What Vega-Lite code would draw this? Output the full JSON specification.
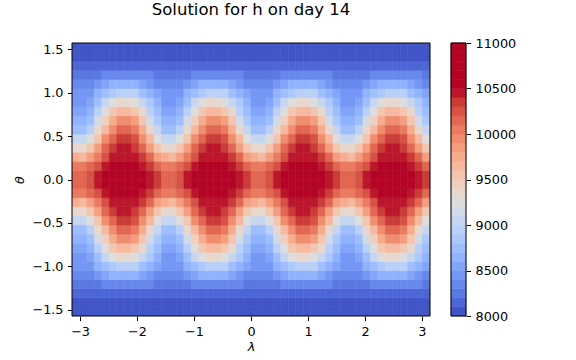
{
"$schema": "https://vega.github.io/schema/vega-lite/v6.json",
"width": 358,
"height": 273,
"autosize": "none",
"padding": {"left": 72, "top": 43, "right": 146, "bottom": 44},
"background": "white",
"title": {"text": "Solution for h on day 14", "font": "DejaVu Sans", "fontSize": 16.5, "fontWeight": "normal", "color": "black", "anchor": "middle", "frame": "group", "offset": 6, "baseline": "alphabetic"},
"config": {
"font": "DejaVu Sans",
"view": {"stroke": null},
"axis": {"labelFont": "DejaVu Sans", "labelFontSize": 12.8, "labelColor": "black", "titleFont": "DejaVu Sans", "titleFontSize": 12.8, "titleFontWeight": "normal", "titleColor": "black", "tickColor": "black", "tickWidth": 1, "tickSize": 4.5, "labelPadding": 4.5, "grid": false, "domain": false, "labelFlush": false, "zindex": 1}
},
"resolve": {"scale": {"x": "independent", "y": "independent"}},
"layer": [
{
"layer": [
{
"data": {"values": [
{"l":-3.08,"t":-1.52,"h":8007},{"l":-2.95,"t":-1.52,"h":8007},{"l":-2.81,"t":-1.52,"h":8007},{"l":-2.68,"t":-1.52,"h":8007},{"l":-2.55,"t":-1.52,"h":8007},{"l":-2.42,"t":-1.52,"h":8007},{"l":-2.29,"t":-1.52,"h":8007},{"l":-2.16,"t":-1.52,"h":8007},{"l":-2.03,"t":-1.52,"h":8007},{"l":-1.9,"t":-1.52,"h":8007},{"l":-1.77,"t":-1.52,"h":8007},{"l":-1.64,"t":-1.52,"h":8007},{"l":-1.51,"t":-1.52,"h":8007},{"l":-1.37,"t":-1.52,"h":8007},{"l":-1.24,"t":-1.52,"h":8007},{"l":-1.11,"t":-1.52,"h":8007},{"l":-0.98,"t":-1.52,"h":8007},{"l":-0.85,"t":-1.52,"h":8007},{"l":-0.72,"t":-1.52,"h":8007},{"l":-0.59,"t":-1.52,"h":8007},{"l":-0.46,"t":-1.52,"h":8007},{"l":-0.33,"t":-1.52,"h":8007},{"l":-0.2,"t":-1.52,"h":8007},{"l":-0.07,"t":-1.52,"h":8007},{"l":0.07,"t":-1.52,"h":8007},{"l":0.2,"t":-1.52,"h":8007},{"l":0.33,"t":-1.52,"h":8007},{"l":0.46,"t":-1.52,"h":8007},{"l":0.59,"t":-1.52,"h":8007},{"l":0.72,"t":-1.52,"h":8007},{"l":0.85,"t":-1.52,"h":8007},{"l":0.98,"t":-1.52,"h":8007},{"l":1.11,"t":-1.52,"h":8007},{"l":1.24,"t":-1.52,"h":8007},{"l":1.37,"t":-1.52,"h":8007},{"l":1.51,"t":-1.52,"h":8007},{"l":1.64,"t":-1.52,"h":8007},{"l":1.77,"t":-1.52,"h":8007},{"l":1.9,"t":-1.52,"h":8007},{"l":2.03,"t":-1.52,"h":8007},{"l":2.16,"t":-1.52,"h":8007},{"l":2.29,"t":-1.52,"h":8007},{"l":2.42,"t":-1.52,"h":8007},{"l":2.55,"t":-1.52,"h":8007},{"l":2.68,"t":-1.52,"h":8007},{"l":2.81,"t":-1.52,"h":8007},{"l":2.95,"t":-1.52,"h":8007},{"l":3.08,"t":-1.52,"h":8007},
{"l":-3.08,"t":-1.41,"h":8059},{"l":-2.95,"t":-1.41,"h":8059},{"l":-2.81,"t":-1.41,"h":8059},{"l":-2.68,"t":-1.41,"h":8060},{"l":-2.55,"t":-1.41,"h":8062},{"l":-2.42,"t":-1.41,"h":8063},{"l":-2.29,"t":-1.41,"h":8064},{"l":-2.16,"t":-1.41,"h":8064},{"l":-2.03,"t":-1.41,"h":8063},{"l":-1.9,"t":-1.41,"h":8062},{"l":-1.77,"t":-1.41,"h":8061},{"l":-1.64,"t":-1.41,"h":8059},{"l":-1.51,"t":-1.41,"h":8059},{"l":-1.37,"t":-1.41,"h":8059},{"l":-1.24,"t":-1.41,"h":8059},{"l":-1.11,"t":-1.41,"h":8060},{"l":-0.98,"t":-1.41,"h":8062},{"l":-0.85,"t":-1.41,"h":8063},{"l":-0.72,"t":-1.41,"h":8064},{"l":-0.59,"t":-1.41,"h":8064},{"l":-0.46,"t":-1.41,"h":8063},{"l":-0.33,"t":-1.41,"h":8062},{"l":-0.2,"t":-1.41,"h":8061},{"l":-0.07,"t":-1.41,"h":8059},{"l":0.07,"t":-1.41,"h":8059},{"l":0.2,"t":-1.41,"h":8059},{"l":0.33,"t":-1.41,"h":8059},{"l":0.46,"t":-1.41,"h":8060},{"l":0.59,"t":-1.41,"h":8062},{"l":0.72,"t":-1.41,"h":8063},{"l":0.85,"t":-1.41,"h":8064},{"l":0.98,"t":-1.41,"h":8064},{"l":1.11,"t":-1.41,"h":8063},{"l":1.24,"t":-1.41,"h":8062},{"l":1.37,"t":-1.41,"h":8061},{"l":1.51,"t":-1.41,"h":8059},{"l":1.64,"t":-1.41,"h":8059},{"l":1.77,"t":-1.41,"h":8059},{"l":1.9,"t":-1.41,"h":8059},{"l":2.03,"t":-1.41,"h":8060},{"l":2.16,"t":-1.41,"h":8062},{"l":2.29,"t":-1.41,"h":8063},{"l":2.42,"t":-1.41,"h":8064},{"l":2.55,"t":-1.41,"h":8064},{"l":2.68,"t":-1.41,"h":8063},{"l":2.81,"t":-1.41,"h":8062},{"l":2.95,"t":-1.41,"h":8061},{"l":3.08,"t":-1.41,"h":8059},
{"l":-3.08,"t":-1.31,"h":8148},{"l":-2.95,"t":-1.31,"h":8148},{"l":-2.81,"t":-1.31,"h":8152},{"l":-2.68,"t":-1.31,"h":8161},{"l":-2.55,"t":-1.31,"h":8171},{"l":-2.42,"t":-1.31,"h":8179},{"l":-2.29,"t":-1.31,"h":8185},{"l":-2.16,"t":-1.31,"h":8185},{"l":-2.03,"t":-1.31,"h":8181},{"l":-1.9,"t":-1.31,"h":8173},{"l":-1.77,"t":-1.31,"h":8163},{"l":-1.64,"t":-1.31,"h":8154},{"l":-1.51,"t":-1.31,"h":8148},{"l":-1.37,"t":-1.31,"h":8148},{"l":-1.24,"t":-1.31,"h":8152},{"l":-1.11,"t":-1.31,"h":8161},{"l":-0.98,"t":-1.31,"h":8171},{"l":-0.85,"t":-1.31,"h":8179},{"l":-0.72,"t":-1.31,"h":8185},{"l":-0.59,"t":-1.31,"h":8185},{"l":-0.46,"t":-1.31,"h":8181},{"l":-0.33,"t":-1.31,"h":8173},{"l":-0.2,"t":-1.31,"h":8163},{"l":-0.07,"t":-1.31,"h":8154},{"l":0.07,"t":-1.31,"h":8148},{"l":0.2,"t":-1.31,"h":8148},{"l":0.33,"t":-1.31,"h":8152},{"l":0.46,"t":-1.31,"h":8161},{"l":0.59,"t":-1.31,"h":8171},{"l":0.72,"t":-1.31,"h":8179},{"l":0.85,"t":-1.31,"h":8185},{"l":0.98,"t":-1.31,"h":8185},{"l":1.11,"t":-1.31,"h":8181},{"l":1.24,"t":-1.31,"h":8173},{"l":1.37,"t":-1.31,"h":8163},{"l":1.51,"t":-1.31,"h":8154},{"l":1.64,"t":-1.31,"h":8148},{"l":1.77,"t":-1.31,"h":8148},{"l":1.9,"t":-1.31,"h":8152},{"l":2.03,"t":-1.31,"h":8161},{"l":2.16,"t":-1.31,"h":8171},{"l":2.29,"t":-1.31,"h":8179},{"l":2.42,"t":-1.31,"h":8185},{"l":2.55,"t":-1.31,"h":8185},{"l":2.68,"t":-1.31,"h":8181},{"l":2.81,"t":-1.31,"h":8173},{"l":2.95,"t":-1.31,"h":8163},{"l":3.08,"t":-1.31,"h":8154},
{"l":-3.08,"t":-1.2,"h":8254},{"l":-2.95,"t":-1.2,"h":8252},{"l":-2.81,"t":-1.2,"h":8268},{"l":-2.68,"t":-1.2,"h":8296},{"l":-2.55,"t":-1.2,"h":8330},{"l":-2.42,"t":-1.2,"h":8361},{"l":-2.29,"t":-1.2,"h":8379},{"l":-2.16,"t":-1.2,"h":8381},{"l":-2.03,"t":-1.2,"h":8366},{"l":-1.9,"t":-1.2,"h":8337},{"l":-1.77,"t":-1.2,"h":8303},{"l":-1.64,"t":-1.2,"h":8273},{"l":-1.51,"t":-1.2,"h":8254},{"l":-1.37,"t":-1.2,"h":8252},{"l":-1.24,"t":-1.2,"h":8268},{"l":-1.11,"t":-1.2,"h":8296},{"l":-0.98,"t":-1.2,"h":8330},{"l":-0.85,"t":-1.2,"h":8361},{"l":-0.72,"t":-1.2,"h":8379},{"l":-0.59,"t":-1.2,"h":8381},{"l":-0.46,"t":-1.2,"h":8366},{"l":-0.33,"t":-1.2,"h":8337},{"l":-0.2,"t":-1.2,"h":8303},{"l":-0.07,"t":-1.2,"h":8273},{"l":0.07,"t":-1.2,"h":8254},{"l":0.2,"t":-1.2,"h":8252},{"l":0.33,"t":-1.2,"h":8268},{"l":0.46,"t":-1.2,"h":8296},{"l":0.59,"t":-1.2,"h":8330},{"l":0.72,"t":-1.2,"h":8361},{"l":0.85,"t":-1.2,"h":8379},{"l":0.98,"t":-1.2,"h":8381},{"l":1.11,"t":-1.2,"h":8366},{"l":1.24,"t":-1.2,"h":8337},{"l":1.37,"t":-1.2,"h":8303},{"l":1.51,"t":-1.2,"h":8273},{"l":1.64,"t":-1.2,"h":8254},{"l":1.77,"t":-1.2,"h":8252},{"l":1.9,"t":-1.2,"h":8268},{"l":2.03,"t":-1.2,"h":8296},{"l":2.16,"t":-1.2,"h":8330},{"l":2.29,"t":-1.2,"h":8361},{"l":2.42,"t":-1.2,"h":8379},{"l":2.55,"t":-1.2,"h":8381},{"l":2.68,"t":-1.2,"h":8366},{"l":2.81,"t":-1.2,"h":8337},{"l":2.95,"t":-1.2,"h":8303},{"l":3.08,"t":-1.2,"h":8273},
{"l":-3.08,"t":-1.1,"h":8352},{"l":-2.95,"t":-1.1,"h":8348},{"l":-2.81,"t":-1.1,"h":8385},{"l":-2.68,"t":-1.1,"h":8452},{"l":-2.55,"t":-1.1,"h":8533},{"l":-2.42,"t":-1.1,"h":8603},{"l":-2.29,"t":-1.1,"h":8647},{"l":-2.16,"t":-1.1,"h":8651},{"l":-2.03,"t":-1.1,"h":8615},{"l":-1.9,"t":-1.1,"h":8548},{"l":-1.77,"t":-1.1,"h":8468},{"l":-1.64,"t":-1.1,"h":8396},{"l":-1.51,"t":-1.1,"h":8352},{"l":-1.37,"t":-1.1,"h":8348},{"l":-1.24,"t":-1.1,"h":8385},{"l":-1.11,"t":-1.1,"h":8452},{"l":-0.98,"t":-1.1,"h":8533},{"l":-0.85,"t":-1.1,"h":8603},{"l":-0.72,"t":-1.1,"h":8647},{"l":-0.59,"t":-1.1,"h":8651},{"l":-0.46,"t":-1.1,"h":8615},{"l":-0.33,"t":-1.1,"h":8548},{"l":-0.2,"t":-1.1,"h":8468},{"l":-0.07,"t":-1.1,"h":8396},{"l":0.07,"t":-1.1,"h":8352},{"l":0.2,"t":-1.1,"h":8348},{"l":0.33,"t":-1.1,"h":8385},{"l":0.46,"t":-1.1,"h":8452},{"l":0.59,"t":-1.1,"h":8533},{"l":0.72,"t":-1.1,"h":8603},{"l":0.85,"t":-1.1,"h":8647},{"l":0.98,"t":-1.1,"h":8651},{"l":1.11,"t":-1.1,"h":8615},{"l":1.24,"t":-1.1,"h":8548},{"l":1.37,"t":-1.1,"h":8468},{"l":1.51,"t":-1.1,"h":8396},{"l":1.64,"t":-1.1,"h":8352},{"l":1.77,"t":-1.1,"h":8348},{"l":1.9,"t":-1.1,"h":8385},{"l":2.03,"t":-1.1,"h":8452},{"l":2.16,"t":-1.1,"h":8533},{"l":2.29,"t":-1.1,"h":8603},{"l":2.42,"t":-1.1,"h":8647},{"l":2.55,"t":-1.1,"h":8651},{"l":2.68,"t":-1.1,"h":8615},{"l":2.81,"t":-1.1,"h":8548},{"l":2.95,"t":-1.1,"h":8468},{"l":3.08,"t":-1.1,"h":8396},
{"l":-3.08,"t":-0.99,"h":8427},{"l":-2.95,"t":-0.99,"h":8419},{"l":-2.81,"t":-0.99,"h":8488},{"l":-2.68,"t":-0.99,"h":8614},{"l":-2.55,"t":-0.99,"h":8762},{"l":-2.42,"t":-0.99,"h":8892},{"l":-2.29,"t":-0.99,"h":8971},{"l":-2.16,"t":-0.99,"h":8978},{"l":-2.03,"t":-0.99,"h":8913},{"l":-1.9,"t":-0.99,"h":8791},{"l":-1.77,"t":-0.99,"h":8643},{"l":-1.64,"t":-0.99,"h":8510},{"l":-1.51,"t":-0.99,"h":8427},{"l":-1.37,"t":-0.99,"h":8419},{"l":-1.24,"t":-0.99,"h":8488},{"l":-1.11,"t":-0.99,"h":8614},{"l":-0.98,"t":-0.99,"h":8762},{"l":-0.85,"t":-0.99,"h":8892},{"l":-0.72,"t":-0.99,"h":8971},{"l":-0.59,"t":-0.99,"h":8978},{"l":-0.46,"t":-0.99,"h":8913},{"l":-0.33,"t":-0.99,"h":8791},{"l":-0.2,"t":-0.99,"h":8643},{"l":-0.07,"t":-0.99,"h":8510},{"l":0.07,"t":-0.99,"h":8427},{"l":0.2,"t":-0.99,"h":8419},{"l":0.33,"t":-0.99,"h":8488},{"l":0.46,"t":-0.99,"h":8614},{"l":0.59,"t":-0.99,"h":8762},{"l":0.72,"t":-0.99,"h":8892},{"l":0.85,"t":-0.99,"h":8971},{"l":0.98,"t":-0.99,"h":8978},{"l":1.11,"t":-0.99,"h":8913},{"l":1.24,"t":-0.99,"h":8791},{"l":1.37,"t":-0.99,"h":8643},{"l":1.51,"t":-0.99,"h":8510},{"l":1.64,"t":-0.99,"h":8427},{"l":1.77,"t":-0.99,"h":8419},{"l":1.9,"t":-0.99,"h":8488},{"l":2.03,"t":-0.99,"h":8614},{"l":2.16,"t":-0.99,"h":8762},{"l":2.29,"t":-0.99,"h":8892},{"l":2.42,"t":-0.99,"h":8971},{"l":2.55,"t":-0.99,"h":8978},{"l":2.68,"t":-0.99,"h":8913},{"l":2.81,"t":-0.99,"h":8791},{"l":2.95,"t":-0.99,"h":8643},{"l":3.08,"t":-0.99,"h":8510},
{"l":-3.08,"t":-0.89,"h":8481},{"l":-2.95,"t":-0.89,"h":8468},{"l":-2.81,"t":-0.89,"h":8577},{"l":-2.68,"t":-0.89,"h":8774},{"l":-2.55,"t":-0.89,"h":9003},{"l":-2.42,"t":-0.89,"h":9202},{"l":-2.29,"t":-0.89,"h":9321},{"l":-2.16,"t":-0.89,"h":9332},{"l":-2.03,"t":-0.89,"h":9233},{"l":-1.9,"t":-0.89,"h":9047},{"l":-1.77,"t":-0.89,"h":8820},{"l":-1.64,"t":-0.89,"h":8611},{"l":-1.51,"t":-0.89,"h":8481},{"l":-1.37,"t":-0.89,"h":8468},{"l":-1.24,"t":-0.89,"h":8577},{"l":-1.11,"t":-0.89,"h":8774},{"l":-0.98,"t":-0.89,"h":9003},{"l":-0.85,"t":-0.89,"h":9202},{"l":-0.72,"t":-0.89,"h":9321},{"l":-0.59,"t":-0.89,"h":9332},{"l":-0.46,"t":-0.89,"h":9233},{"l":-0.33,"t":-0.89,"h":9047},{"l":-0.2,"t":-0.89,"h":8820},{"l":-0.07,"t":-0.89,"h":8611},{"l":0.07,"t":-0.89,"h":8481},{"l":0.2,"t":-0.89,"h":8468},{"l":0.33,"t":-0.89,"h":8577},{"l":0.46,"t":-0.89,"h":8774},{"l":0.59,"t":-0.89,"h":9003},{"l":0.72,"t":-0.89,"h":9202},{"l":0.85,"t":-0.89,"h":9321},{"l":0.98,"t":-0.89,"h":9332},{"l":1.11,"t":-0.89,"h":9233},{"l":1.24,"t":-0.89,"h":9047},{"l":1.37,"t":-0.89,"h":8820},{"l":1.51,"t":-0.89,"h":8611},{"l":1.64,"t":-0.89,"h":8481},{"l":1.77,"t":-0.89,"h":8468},{"l":1.9,"t":-0.89,"h":8577},{"l":2.03,"t":-0.89,"h":8774},{"l":2.16,"t":-0.89,"h":9003},{"l":2.29,"t":-0.89,"h":9202},{"l":2.42,"t":-0.89,"h":9321},{"l":2.55,"t":-0.89,"h":9332},{"l":2.68,"t":-0.89,"h":9233},{"l":2.81,"t":-0.89,"h":9047},{"l":2.95,"t":-0.89,"h":8820},{"l":3.08,"t":-0.89,"h":8611},
{"l":-3.08,"t":-0.79,"h":8534},{"l":-2.95,"t":-0.79,"h":8516},{"l":-2.81,"t":-0.79,"h":8666},{"l":-2.68,"t":-0.79,"h":8935},{"l":-2.55,"t":-0.79,"h":9242},{"l":-2.42,"t":-0.79,"h":9503},{"l":-2.29,"t":-0.79,"h":9657},{"l":-2.16,"t":-0.79,"h":9671},{"l":-2.03,"t":-0.79,"h":9544},{"l":-1.9,"t":-0.79,"h":9300},{"l":-1.77,"t":-0.79,"h":8997},{"l":-1.64,"t":-0.79,"h":8713},{"l":-1.51,"t":-0.79,"h":8534},{"l":-1.37,"t":-0.79,"h":8516},{"l":-1.24,"t":-0.79,"h":8666},{"l":-1.11,"t":-0.79,"h":8935},{"l":-0.98,"t":-0.79,"h":9242},{"l":-0.85,"t":-0.79,"h":9503},{"l":-0.72,"t":-0.79,"h":9657},{"l":-0.59,"t":-0.79,"h":9671},{"l":-0.46,"t":-0.79,"h":9544},{"l":-0.33,"t":-0.79,"h":9300},{"l":-0.2,"t":-0.79,"h":8997},{"l":-0.07,"t":-0.79,"h":8713},{"l":0.07,"t":-0.79,"h":8534},{"l":0.2,"t":-0.79,"h":8516},{"l":0.33,"t":-0.79,"h":8666},{"l":0.46,"t":-0.79,"h":8935},{"l":0.59,"t":-0.79,"h":9242},{"l":0.72,"t":-0.79,"h":9503},{"l":0.85,"t":-0.79,"h":9657},{"l":0.98,"t":-0.79,"h":9671},{"l":1.11,"t":-0.79,"h":9544},{"l":1.24,"t":-0.79,"h":9300},{"l":1.37,"t":-0.79,"h":8997},{"l":1.51,"t":-0.79,"h":8713},{"l":1.64,"t":-0.79,"h":8534},{"l":1.77,"t":-0.79,"h":8516},{"l":1.9,"t":-0.79,"h":8666},{"l":2.03,"t":-0.79,"h":8935},{"l":2.16,"t":-0.79,"h":9242},{"l":2.29,"t":-0.79,"h":9503},{"l":2.42,"t":-0.79,"h":9657},{"l":2.55,"t":-0.79,"h":9671},{"l":2.68,"t":-0.79,"h":9544},{"l":2.81,"t":-0.79,"h":9300},{"l":2.95,"t":-0.79,"h":8997},{"l":3.08,"t":-0.79,"h":8713},
{"l":-3.08,"t":-0.68,"h":8622},{"l":-2.95,"t":-0.68,"h":8601},{"l":-2.81,"t":-0.68,"h":8785},{"l":-2.68,"t":-0.68,"h":9110},{"l":-2.55,"t":-0.68,"h":9472},{"l":-2.42,"t":-0.68,"h":9772},{"l":-2.29,"t":-0.68,"h":9945},{"l":-2.16,"t":-0.68,"h":9962},{"l":-2.03,"t":-0.68,"h":9819},{"l":-1.9,"t":-0.68,"h":9540},{"l":-1.77,"t":-0.68,"h":9183},{"l":-1.64,"t":-0.68,"h":8842},{"l":-1.51,"t":-0.68,"h":8622},{"l":-1.37,"t":-0.68,"h":8601},{"l":-1.24,"t":-0.68,"h":8785},{"l":-1.11,"t":-0.68,"h":9110},{"l":-0.98,"t":-0.68,"h":9472},{"l":-0.85,"t":-0.68,"h":9772},{"l":-0.72,"t":-0.68,"h":9945},{"l":-0.59,"t":-0.68,"h":9962},{"l":-0.46,"t":-0.68,"h":9819},{"l":-0.33,"t":-0.68,"h":9540},{"l":-0.2,"t":-0.68,"h":9183},{"l":-0.07,"t":-0.68,"h":8842},{"l":0.07,"t":-0.68,"h":8622},{"l":0.2,"t":-0.68,"h":8601},{"l":0.33,"t":-0.68,"h":8785},{"l":0.46,"t":-0.68,"h":9110},{"l":0.59,"t":-0.68,"h":9472},{"l":0.72,"t":-0.68,"h":9772},{"l":0.85,"t":-0.68,"h":9945},{"l":0.98,"t":-0.68,"h":9962},{"l":1.11,"t":-0.68,"h":9819},{"l":1.24,"t":-0.68,"h":9540},{"l":1.37,"t":-0.68,"h":9183},{"l":1.51,"t":-0.68,"h":8842},{"l":1.64,"t":-0.68,"h":8622},{"l":1.77,"t":-0.68,"h":8601},{"l":1.9,"t":-0.68,"h":8785},{"l":2.03,"t":-0.68,"h":9110},{"l":2.16,"t":-0.68,"h":9472},{"l":2.29,"t":-0.68,"h":9772},{"l":2.42,"t":-0.68,"h":9945},{"l":2.55,"t":-0.68,"h":9962},{"l":2.68,"t":-0.68,"h":9819},{"l":2.81,"t":-0.68,"h":9540},{"l":2.95,"t":-0.68,"h":9183},{"l":3.08,"t":-0.68,"h":8842},
{"l":-3.08,"t":-0.58,"h":8782},{"l":-2.95,"t":-0.58,"h":8759},{"l":-2.81,"t":-0.58,"h":8961},{"l":-2.68,"t":-0.58,"h":9313},{"l":-2.55,"t":-0.58,"h":9693},{"l":-2.42,"t":-0.58,"h":9998},{"l":-2.29,"t":-0.58,"h":10168},{"l":-2.16,"t":-0.58,"h":10183},{"l":-2.03,"t":-0.58,"h":10044},{"l":-1.9,"t":-0.58,"h":9763},{"l":-1.77,"t":-0.58,"h":9390},{"l":-1.64,"t":-0.58,"h":9023},{"l":-1.51,"t":-0.58,"h":8782},{"l":-1.37,"t":-0.58,"h":8759},{"l":-1.24,"t":-0.58,"h":8961},{"l":-1.11,"t":-0.58,"h":9313},{"l":-0.98,"t":-0.58,"h":9693},{"l":-0.85,"t":-0.58,"h":9998},{"l":-0.72,"t":-0.58,"h":10168},{"l":-0.59,"t":-0.58,"h":10183},{"l":-0.46,"t":-0.58,"h":10044},{"l":-0.33,"t":-0.58,"h":9763},{"l":-0.2,"t":-0.58,"h":9390},{"l":-0.07,"t":-0.58,"h":9023},{"l":0.07,"t":-0.58,"h":8782},{"l":0.2,"t":-0.58,"h":8759},{"l":0.33,"t":-0.58,"h":8961},{"l":0.46,"t":-0.58,"h":9313},{"l":0.59,"t":-0.58,"h":9693},{"l":0.72,"t":-0.58,"h":9998},{"l":0.85,"t":-0.58,"h":10168},{"l":0.98,"t":-0.58,"h":10183},{"l":1.11,"t":-0.58,"h":10044},{"l":1.24,"t":-0.58,"h":9763},{"l":1.37,"t":-0.58,"h":9390},{"l":1.51,"t":-0.58,"h":9023},{"l":1.64,"t":-0.58,"h":8782},{"l":1.77,"t":-0.58,"h":8759},{"l":1.9,"t":-0.58,"h":8961},{"l":2.03,"t":-0.58,"h":9313},{"l":2.16,"t":-0.58,"h":9693},{"l":2.29,"t":-0.58,"h":9998},{"l":2.42,"t":-0.58,"h":10168},{"l":2.55,"t":-0.58,"h":10183},{"l":2.68,"t":-0.58,"h":10044},{"l":2.81,"t":-0.58,"h":9763},{"l":2.95,"t":-0.58,"h":9390},{"l":3.08,"t":-0.58,"h":9023},
{"l":-3.08,"t":-0.47,"h":9033},{"l":-2.95,"t":-0.47,"h":9009},{"l":-2.81,"t":-0.47,"h":9210},{"l":-2.68,"t":-0.47,"h":9552},{"l":-2.55,"t":-0.47,"h":9908},{"l":-2.42,"t":-0.47,"h":10179},{"l":-2.29,"t":-0.47,"h":10323},{"l":-2.16,"t":-0.47,"h":10336},{"l":-2.03,"t":-0.47,"h":10218},{"l":-1.9,"t":-0.47,"h":9971},{"l":-1.77,"t":-0.47,"h":9626},{"l":-1.64,"t":-0.47,"h":9271},{"l":-1.51,"t":-0.47,"h":9033},{"l":-1.37,"t":-0.47,"h":9009},{"l":-1.24,"t":-0.47,"h":9210},{"l":-1.11,"t":-0.47,"h":9552},{"l":-0.98,"t":-0.47,"h":9908},{"l":-0.85,"t":-0.47,"h":10179},{"l":-0.72,"t":-0.47,"h":10323},{"l":-0.59,"t":-0.47,"h":10336},{"l":-0.46,"t":-0.47,"h":10218},{"l":-0.33,"t":-0.47,"h":9971},{"l":-0.2,"t":-0.47,"h":9626},{"l":-0.07,"t":-0.47,"h":9271},{"l":0.07,"t":-0.47,"h":9033},{"l":0.2,"t":-0.47,"h":9009},{"l":0.33,"t":-0.47,"h":9210},{"l":0.46,"t":-0.47,"h":9552},{"l":0.59,"t":-0.47,"h":9908},{"l":0.72,"t":-0.47,"h":10179},{"l":0.85,"t":-0.47,"h":10323},{"l":0.98,"t":-0.47,"h":10336},{"l":1.11,"t":-0.47,"h":10218},{"l":1.24,"t":-0.47,"h":9971},{"l":1.37,"t":-0.47,"h":9626},{"l":1.51,"t":-0.47,"h":9271},{"l":1.64,"t":-0.47,"h":9033},{"l":1.77,"t":-0.47,"h":9009},{"l":1.9,"t":-0.47,"h":9210},{"l":2.03,"t":-0.47,"h":9552},{"l":2.16,"t":-0.47,"h":9908},{"l":2.29,"t":-0.47,"h":10179},{"l":2.42,"t":-0.47,"h":10323},{"l":2.55,"t":-0.47,"h":10336},{"l":2.68,"t":-0.47,"h":10218},{"l":2.81,"t":-0.47,"h":9971},{"l":2.95,"t":-0.47,"h":9626},{"l":3.08,"t":-0.47,"h":9271},
{"l":-3.08,"t":-0.37,"h":9361},{"l":-2.95,"t":-0.37,"h":9339},{"l":-2.81,"t":-0.37,"h":9520},{"l":-2.68,"t":-0.37,"h":9818},{"l":-2.55,"t":-0.37,"h":10113},{"l":-2.42,"t":-0.37,"h":10322},{"l":-2.29,"t":-0.37,"h":10425},{"l":-2.16,"t":-0.37,"h":10434},{"l":-2.03,"t":-0.37,"h":10351},{"l":-1.9,"t":-0.37,"h":10163},{"l":-1.77,"t":-0.37,"h":9881},{"l":-1.64,"t":-0.37,"h":9574},{"l":-1.51,"t":-0.37,"h":9361},{"l":-1.37,"t":-0.37,"h":9339},{"l":-1.24,"t":-0.37,"h":9520},{"l":-1.11,"t":-0.37,"h":9818},{"l":-0.98,"t":-0.37,"h":10113},{"l":-0.85,"t":-0.37,"h":10322},{"l":-0.72,"t":-0.37,"h":10425},{"l":-0.59,"t":-0.37,"h":10434},{"l":-0.46,"t":-0.37,"h":10351},{"l":-0.33,"t":-0.37,"h":10163},{"l":-0.2,"t":-0.37,"h":9881},{"l":-0.07,"t":-0.37,"h":9574},{"l":0.07,"t":-0.37,"h":9361},{"l":0.2,"t":-0.37,"h":9339},{"l":0.33,"t":-0.37,"h":9520},{"l":0.46,"t":-0.37,"h":9818},{"l":0.59,"t":-0.37,"h":10113},{"l":0.72,"t":-0.37,"h":10322},{"l":0.85,"t":-0.37,"h":10425},{"l":0.98,"t":-0.37,"h":10434},{"l":1.11,"t":-0.37,"h":10351},{"l":1.24,"t":-0.37,"h":10163},{"l":1.37,"t":-0.37,"h":9881},{"l":1.51,"t":-0.37,"h":9574},{"l":1.64,"t":-0.37,"h":9361},{"l":1.77,"t":-0.37,"h":9339},{"l":1.9,"t":-0.37,"h":9520},{"l":2.03,"t":-0.37,"h":9818},{"l":2.16,"t":-0.37,"h":10113},{"l":2.29,"t":-0.37,"h":10322},{"l":2.42,"t":-0.37,"h":10425},{"l":2.55,"t":-0.37,"h":10434},{"l":2.68,"t":-0.37,"h":10351},{"l":2.81,"t":-0.37,"h":10163},{"l":2.95,"t":-0.37,"h":9881},{"l":3.08,"t":-0.37,"h":9574},
{"l":-3.08,"t":-0.26,"h":9714},{"l":-2.95,"t":-0.26,"h":9696},{"l":-2.81,"t":-0.26,"h":9844},{"l":-2.68,"t":-0.26,"h":10080},{"l":-2.55,"t":-0.26,"h":10297},{"l":-2.42,"t":-0.26,"h":10433},{"l":-2.29,"t":-0.26,"h":10489},{"l":-2.16,"t":-0.26,"h":10493},{"l":-2.03,"t":-0.26,"h":10449},{"l":-1.9,"t":-0.26,"h":10331},{"l":-1.77,"t":-0.26,"h":10128},{"l":-1.64,"t":-0.26,"h":9888},{"l":-1.51,"t":-0.26,"h":9714},{"l":-1.37,"t":-0.26,"h":9696},{"l":-1.24,"t":-0.26,"h":9844},{"l":-1.11,"t":-0.26,"h":10080},{"l":-0.98,"t":-0.26,"h":10297},{"l":-0.85,"t":-0.26,"h":10433},{"l":-0.72,"t":-0.26,"h":10489},{"l":-0.59,"t":-0.26,"h":10493},{"l":-0.46,"t":-0.26,"h":10449},{"l":-0.33,"t":-0.26,"h":10331},{"l":-0.2,"t":-0.26,"h":10128},{"l":-0.07,"t":-0.26,"h":9888},{"l":0.07,"t":-0.26,"h":9714},{"l":0.2,"t":-0.26,"h":9696},{"l":0.33,"t":-0.26,"h":9844},{"l":0.46,"t":-0.26,"h":10080},{"l":0.59,"t":-0.26,"h":10297},{"l":0.72,"t":-0.26,"h":10433},{"l":0.85,"t":-0.26,"h":10489},{"l":0.98,"t":-0.26,"h":10493},{"l":1.11,"t":-0.26,"h":10449},{"l":1.24,"t":-0.26,"h":10331},{"l":1.37,"t":-0.26,"h":10128},{"l":1.51,"t":-0.26,"h":9888},{"l":1.64,"t":-0.26,"h":9714},{"l":1.77,"t":-0.26,"h":9696},{"l":1.9,"t":-0.26,"h":9844},{"l":2.03,"t":-0.26,"h":10080},{"l":2.16,"t":-0.26,"h":10297},{"l":2.29,"t":-0.26,"h":10433},{"l":2.42,"t":-0.26,"h":10489},{"l":2.55,"t":-0.26,"h":10493},{"l":2.68,"t":-0.26,"h":10449},{"l":2.81,"t":-0.26,"h":10331},{"l":2.95,"t":-0.26,"h":10128},{"l":3.08,"t":-0.26,"h":9888},
{"l":-3.08,"t":-0.16,"h":10016},{"l":-2.95,"t":-0.16,"h":10002},{"l":-2.81,"t":-0.16,"h":10118},{"l":-2.68,"t":-0.16,"h":10293},{"l":-2.55,"t":-0.16,"h":10439},{"l":-2.42,"t":-0.16,"h":10510},{"l":-2.29,"t":-0.16,"h":10527},{"l":-2.16,"t":-0.16,"h":10527},{"l":-2.03,"t":-0.16,"h":10516},{"l":-1.9,"t":-0.16,"h":10459},{"l":-1.77,"t":-0.16,"h":10327},{"l":-1.64,"t":-0.16,"h":10151},{"l":-1.51,"t":-0.16,"h":10016},{"l":-1.37,"t":-0.16,"h":10002},{"l":-1.24,"t":-0.16,"h":10118},{"l":-1.11,"t":-0.16,"h":10293},{"l":-0.98,"t":-0.16,"h":10439},{"l":-0.85,"t":-0.16,"h":10510},{"l":-0.72,"t":-0.16,"h":10527},{"l":-0.59,"t":-0.16,"h":10527},{"l":-0.46,"t":-0.16,"h":10516},{"l":-0.33,"t":-0.16,"h":10459},{"l":-0.2,"t":-0.16,"h":10327},{"l":-0.07,"t":-0.16,"h":10151},{"l":0.07,"t":-0.16,"h":10016},{"l":0.2,"t":-0.16,"h":10002},{"l":0.33,"t":-0.16,"h":10118},{"l":0.46,"t":-0.16,"h":10293},{"l":0.59,"t":-0.16,"h":10439},{"l":0.72,"t":-0.16,"h":10510},{"l":0.85,"t":-0.16,"h":10527},{"l":0.98,"t":-0.16,"h":10527},{"l":1.11,"t":-0.16,"h":10516},{"l":1.24,"t":-0.16,"h":10459},{"l":1.37,"t":-0.16,"h":10327},{"l":1.51,"t":-0.16,"h":10151},{"l":1.64,"t":-0.16,"h":10016},{"l":1.77,"t":-0.16,"h":10002},{"l":1.9,"t":-0.16,"h":10118},{"l":2.03,"t":-0.16,"h":10293},{"l":2.16,"t":-0.16,"h":10439},{"l":2.29,"t":-0.16,"h":10510},{"l":2.42,"t":-0.16,"h":10527},{"l":2.55,"t":-0.16,"h":10527},{"l":2.68,"t":-0.16,"h":10516},{"l":2.81,"t":-0.16,"h":10459},{"l":2.95,"t":-0.16,"h":10327},{"l":3.08,"t":-0.16,"h":10151},
{"l":-3.08,"t":-0.05,"h":10191},{"l":-2.95,"t":-0.05,"h":10180},{"l":-2.81,"t":-0.05,"h":10275},{"l":-2.68,"t":-0.05,"h":10414},{"l":-2.55,"t":-0.05,"h":10517},{"l":-2.42,"t":-0.05,"h":10551},{"l":-2.29,"t":-0.05,"h":10545},{"l":-2.16,"t":-0.05,"h":10543},{"l":-2.03,"t":-0.05,"h":10551},{"l":-1.9,"t":-0.05,"h":10529},{"l":-1.77,"t":-0.05,"h":10440},{"l":-1.64,"t":-0.05,"h":10302},{"l":-1.51,"t":-0.05,"h":10191},{"l":-1.37,"t":-0.05,"h":10180},{"l":-1.24,"t":-0.05,"h":10275},{"l":-1.11,"t":-0.05,"h":10414},{"l":-0.98,"t":-0.05,"h":10517},{"l":-0.85,"t":-0.05,"h":10551},{"l":-0.72,"t":-0.05,"h":10545},{"l":-0.59,"t":-0.05,"h":10543},{"l":-0.46,"t":-0.05,"h":10551},{"l":-0.33,"t":-0.05,"h":10529},{"l":-0.2,"t":-0.05,"h":10440},{"l":-0.07,"t":-0.05,"h":10302},{"l":0.07,"t":-0.05,"h":10191},{"l":0.2,"t":-0.05,"h":10180},{"l":0.33,"t":-0.05,"h":10275},{"l":0.46,"t":-0.05,"h":10414},{"l":0.59,"t":-0.05,"h":10517},{"l":0.72,"t":-0.05,"h":10551},{"l":0.85,"t":-0.05,"h":10545},{"l":0.98,"t":-0.05,"h":10543},{"l":1.11,"t":-0.05,"h":10551},{"l":1.24,"t":-0.05,"h":10529},{"l":1.37,"t":-0.05,"h":10440},{"l":1.51,"t":-0.05,"h":10302},{"l":1.64,"t":-0.05,"h":10191},{"l":1.77,"t":-0.05,"h":10180},{"l":1.9,"t":-0.05,"h":10275},{"l":2.03,"t":-0.05,"h":10414},{"l":2.16,"t":-0.05,"h":10517},{"l":2.29,"t":-0.05,"h":10551},{"l":2.42,"t":-0.05,"h":10545},{"l":2.55,"t":-0.05,"h":10543},{"l":2.68,"t":-0.05,"h":10551},{"l":2.81,"t":-0.05,"h":10529},{"l":2.95,"t":-0.05,"h":10440},{"l":3.08,"t":-0.05,"h":10302},
{"l":-3.08,"t":0.05,"h":10191},{"l":-2.95,"t":0.05,"h":10180},{"l":-2.81,"t":0.05,"h":10275},{"l":-2.68,"t":0.05,"h":10414},{"l":-2.55,"t":0.05,"h":10517},{"l":-2.42,"t":0.05,"h":10551},{"l":-2.29,"t":0.05,"h":10545},{"l":-2.16,"t":0.05,"h":10543},{"l":-2.03,"t":0.05,"h":10551},{"l":-1.9,"t":0.05,"h":10529},{"l":-1.77,"t":0.05,"h":10440},{"l":-1.64,"t":0.05,"h":10302},{"l":-1.51,"t":0.05,"h":10191},{"l":-1.37,"t":0.05,"h":10180},{"l":-1.24,"t":0.05,"h":10275},{"l":-1.11,"t":0.05,"h":10414},{"l":-0.98,"t":0.05,"h":10517},{"l":-0.85,"t":0.05,"h":10551},{"l":-0.72,"t":0.05,"h":10545},{"l":-0.59,"t":0.05,"h":10543},{"l":-0.46,"t":0.05,"h":10551},{"l":-0.33,"t":0.05,"h":10529},{"l":-0.2,"t":0.05,"h":10440},{"l":-0.07,"t":0.05,"h":10302},{"l":0.07,"t":0.05,"h":10191},{"l":0.2,"t":0.05,"h":10180},{"l":0.33,"t":0.05,"h":10275},{"l":0.46,"t":0.05,"h":10414},{"l":0.59,"t":0.05,"h":10517},{"l":0.72,"t":0.05,"h":10551},{"l":0.85,"t":0.05,"h":10545},{"l":0.98,"t":0.05,"h":10543},{"l":1.11,"t":0.05,"h":10551},{"l":1.24,"t":0.05,"h":10529},{"l":1.37,"t":0.05,"h":10440},{"l":1.51,"t":0.05,"h":10302},{"l":1.64,"t":0.05,"h":10191},{"l":1.77,"t":0.05,"h":10180},{"l":1.9,"t":0.05,"h":10275},{"l":2.03,"t":0.05,"h":10414},{"l":2.16,"t":0.05,"h":10517},{"l":2.29,"t":0.05,"h":10551},{"l":2.42,"t":0.05,"h":10545},{"l":2.55,"t":0.05,"h":10543},{"l":2.68,"t":0.05,"h":10551},{"l":2.81,"t":0.05,"h":10529},{"l":2.95,"t":0.05,"h":10440},{"l":3.08,"t":0.05,"h":10302},
{"l":-3.08,"t":0.16,"h":10016},{"l":-2.95,"t":0.16,"h":10002},{"l":-2.81,"t":0.16,"h":10118},{"l":-2.68,"t":0.16,"h":10293},{"l":-2.55,"t":0.16,"h":10439},{"l":-2.42,"t":0.16,"h":10510},{"l":-2.29,"t":0.16,"h":10527},{"l":-2.16,"t":0.16,"h":10527},{"l":-2.03,"t":0.16,"h":10516},{"l":-1.9,"t":0.16,"h":10459},{"l":-1.77,"t":0.16,"h":10327},{"l":-1.64,"t":0.16,"h":10151},{"l":-1.51,"t":0.16,"h":10016},{"l":-1.37,"t":0.16,"h":10002},{"l":-1.24,"t":0.16,"h":10118},{"l":-1.11,"t":0.16,"h":10293},{"l":-0.98,"t":0.16,"h":10439},{"l":-0.85,"t":0.16,"h":10510},{"l":-0.72,"t":0.16,"h":10527},{"l":-0.59,"t":0.16,"h":10527},{"l":-0.46,"t":0.16,"h":10516},{"l":-0.33,"t":0.16,"h":10459},{"l":-0.2,"t":0.16,"h":10327},{"l":-0.07,"t":0.16,"h":10151},{"l":0.07,"t":0.16,"h":10016},{"l":0.2,"t":0.16,"h":10002},{"l":0.33,"t":0.16,"h":10118},{"l":0.46,"t":0.16,"h":10293},{"l":0.59,"t":0.16,"h":10439},{"l":0.72,"t":0.16,"h":10510},{"l":0.85,"t":0.16,"h":10527},{"l":0.98,"t":0.16,"h":10527},{"l":1.11,"t":0.16,"h":10516},{"l":1.24,"t":0.16,"h":10459},{"l":1.37,"t":0.16,"h":10327},{"l":1.51,"t":0.16,"h":10151},{"l":1.64,"t":0.16,"h":10016},{"l":1.77,"t":0.16,"h":10002},{"l":1.9,"t":0.16,"h":10118},{"l":2.03,"t":0.16,"h":10293},{"l":2.16,"t":0.16,"h":10439},{"l":2.29,"t":0.16,"h":10510},{"l":2.42,"t":0.16,"h":10527},{"l":2.55,"t":0.16,"h":10527},{"l":2.68,"t":0.16,"h":10516},{"l":2.81,"t":0.16,"h":10459},{"l":2.95,"t":0.16,"h":10327},{"l":3.08,"t":0.16,"h":10151},
{"l":-3.08,"t":0.26,"h":9714},{"l":-2.95,"t":0.26,"h":9696},{"l":-2.81,"t":0.26,"h":9844},{"l":-2.68,"t":0.26,"h":10080},{"l":-2.55,"t":0.26,"h":10297},{"l":-2.42,"t":0.26,"h":10433},{"l":-2.29,"t":0.26,"h":10489},{"l":-2.16,"t":0.26,"h":10493},{"l":-2.03,"t":0.26,"h":10449},{"l":-1.9,"t":0.26,"h":10331},{"l":-1.77,"t":0.26,"h":10128},{"l":-1.64,"t":0.26,"h":9888},{"l":-1.51,"t":0.26,"h":9714},{"l":-1.37,"t":0.26,"h":9696},{"l":-1.24,"t":0.26,"h":9844},{"l":-1.11,"t":0.26,"h":10080},{"l":-0.98,"t":0.26,"h":10297},{"l":-0.85,"t":0.26,"h":10433},{"l":-0.72,"t":0.26,"h":10489},{"l":-0.59,"t":0.26,"h":10493},{"l":-0.46,"t":0.26,"h":10449},{"l":-0.33,"t":0.26,"h":10331},{"l":-0.2,"t":0.26,"h":10128},{"l":-0.07,"t":0.26,"h":9888},{"l":0.07,"t":0.26,"h":9714},{"l":0.2,"t":0.26,"h":9696},{"l":0.33,"t":0.26,"h":9844},{"l":0.46,"t":0.26,"h":10080},{"l":0.59,"t":0.26,"h":10297},{"l":0.72,"t":0.26,"h":10433},{"l":0.85,"t":0.26,"h":10489},{"l":0.98,"t":0.26,"h":10493},{"l":1.11,"t":0.26,"h":10449},{"l":1.24,"t":0.26,"h":10331},{"l":1.37,"t":0.26,"h":10128},{"l":1.51,"t":0.26,"h":9888},{"l":1.64,"t":0.26,"h":9714},{"l":1.77,"t":0.26,"h":9696},{"l":1.9,"t":0.26,"h":9844},{"l":2.03,"t":0.26,"h":10080},{"l":2.16,"t":0.26,"h":10297},{"l":2.29,"t":0.26,"h":10433},{"l":2.42,"t":0.26,"h":10489},{"l":2.55,"t":0.26,"h":10493},{"l":2.68,"t":0.26,"h":10449},{"l":2.81,"t":0.26,"h":10331},{"l":2.95,"t":0.26,"h":10128},{"l":3.08,"t":0.26,"h":9888},
{"l":-3.08,"t":0.37,"h":9361},{"l":-2.95,"t":0.37,"h":9339},{"l":-2.81,"t":0.37,"h":9520},{"l":-2.68,"t":0.37,"h":9818},{"l":-2.55,"t":0.37,"h":10113},{"l":-2.42,"t":0.37,"h":10322},{"l":-2.29,"t":0.37,"h":10425},{"l":-2.16,"t":0.37,"h":10434},{"l":-2.03,"t":0.37,"h":10351},{"l":-1.9,"t":0.37,"h":10163},{"l":-1.77,"t":0.37,"h":9881},{"l":-1.64,"t":0.37,"h":9574},{"l":-1.51,"t":0.37,"h":9361},{"l":-1.37,"t":0.37,"h":9339},{"l":-1.24,"t":0.37,"h":9520},{"l":-1.11,"t":0.37,"h":9818},{"l":-0.98,"t":0.37,"h":10113},{"l":-0.85,"t":0.37,"h":10322},{"l":-0.72,"t":0.37,"h":10425},{"l":-0.59,"t":0.37,"h":10434},{"l":-0.46,"t":0.37,"h":10351},{"l":-0.33,"t":0.37,"h":10163},{"l":-0.2,"t":0.37,"h":9881},{"l":-0.07,"t":0.37,"h":9574},{"l":0.07,"t":0.37,"h":9361},{"l":0.2,"t":0.37,"h":9339},{"l":0.33,"t":0.37,"h":9520},{"l":0.46,"t":0.37,"h":9818},{"l":0.59,"t":0.37,"h":10113},{"l":0.72,"t":0.37,"h":10322},{"l":0.85,"t":0.37,"h":10425},{"l":0.98,"t":0.37,"h":10434},{"l":1.11,"t":0.37,"h":10351},{"l":1.24,"t":0.37,"h":10163},{"l":1.37,"t":0.37,"h":9881},{"l":1.51,"t":0.37,"h":9574},{"l":1.64,"t":0.37,"h":9361},{"l":1.77,"t":0.37,"h":9339},{"l":1.9,"t":0.37,"h":9520},{"l":2.03,"t":0.37,"h":9818},{"l":2.16,"t":0.37,"h":10113},{"l":2.29,"t":0.37,"h":10322},{"l":2.42,"t":0.37,"h":10425},{"l":2.55,"t":0.37,"h":10434},{"l":2.68,"t":0.37,"h":10351},{"l":2.81,"t":0.37,"h":10163},{"l":2.95,"t":0.37,"h":9881},{"l":3.08,"t":0.37,"h":9574},
{"l":-3.08,"t":0.47,"h":9033},{"l":-2.95,"t":0.47,"h":9009},{"l":-2.81,"t":0.47,"h":9210},{"l":-2.68,"t":0.47,"h":9552},{"l":-2.55,"t":0.47,"h":9908},{"l":-2.42,"t":0.47,"h":10179},{"l":-2.29,"t":0.47,"h":10323},{"l":-2.16,"t":0.47,"h":10336},{"l":-2.03,"t":0.47,"h":10218},{"l":-1.9,"t":0.47,"h":9971},{"l":-1.77,"t":0.47,"h":9626},{"l":-1.64,"t":0.47,"h":9271},{"l":-1.51,"t":0.47,"h":9033},{"l":-1.37,"t":0.47,"h":9009},{"l":-1.24,"t":0.47,"h":9210},{"l":-1.11,"t":0.47,"h":9552},{"l":-0.98,"t":0.47,"h":9908},{"l":-0.85,"t":0.47,"h":10179},{"l":-0.72,"t":0.47,"h":10323},{"l":-0.59,"t":0.47,"h":10336},{"l":-0.46,"t":0.47,"h":10218},{"l":-0.33,"t":0.47,"h":9971},{"l":-0.2,"t":0.47,"h":9626},{"l":-0.07,"t":0.47,"h":9271},{"l":0.07,"t":0.47,"h":9033},{"l":0.2,"t":0.47,"h":9009},{"l":0.33,"t":0.47,"h":9210},{"l":0.46,"t":0.47,"h":9552},{"l":0.59,"t":0.47,"h":9908},{"l":0.72,"t":0.47,"h":10179},{"l":0.85,"t":0.47,"h":10323},{"l":0.98,"t":0.47,"h":10336},{"l":1.11,"t":0.47,"h":10218},{"l":1.24,"t":0.47,"h":9971},{"l":1.37,"t":0.47,"h":9626},{"l":1.51,"t":0.47,"h":9271},{"l":1.64,"t":0.47,"h":9033},{"l":1.77,"t":0.47,"h":9009},{"l":1.9,"t":0.47,"h":9210},{"l":2.03,"t":0.47,"h":9552},{"l":2.16,"t":0.47,"h":9908},{"l":2.29,"t":0.47,"h":10179},{"l":2.42,"t":0.47,"h":10323},{"l":2.55,"t":0.47,"h":10336},{"l":2.68,"t":0.47,"h":10218},{"l":2.81,"t":0.47,"h":9971},{"l":2.95,"t":0.47,"h":9626},{"l":3.08,"t":0.47,"h":9271},
{"l":-3.08,"t":0.58,"h":8782},{"l":-2.95,"t":0.58,"h":8759},{"l":-2.81,"t":0.58,"h":8961},{"l":-2.68,"t":0.58,"h":9313},{"l":-2.55,"t":0.58,"h":9693},{"l":-2.42,"t":0.58,"h":9998},{"l":-2.29,"t":0.58,"h":10168},{"l":-2.16,"t":0.58,"h":10183},{"l":-2.03,"t":0.58,"h":10044},{"l":-1.9,"t":0.58,"h":9763},{"l":-1.77,"t":0.58,"h":9390},{"l":-1.64,"t":0.58,"h":9023},{"l":-1.51,"t":0.58,"h":8782},{"l":-1.37,"t":0.58,"h":8759},{"l":-1.24,"t":0.58,"h":8961},{"l":-1.11,"t":0.58,"h":9313},{"l":-0.98,"t":0.58,"h":9693},{"l":-0.85,"t":0.58,"h":9998},{"l":-0.72,"t":0.58,"h":10168},{"l":-0.59,"t":0.58,"h":10183},{"l":-0.46,"t":0.58,"h":10044},{"l":-0.33,"t":0.58,"h":9763},{"l":-0.2,"t":0.58,"h":9390},{"l":-0.07,"t":0.58,"h":9023},{"l":0.07,"t":0.58,"h":8782},{"l":0.2,"t":0.58,"h":8759},{"l":0.33,"t":0.58,"h":8961},{"l":0.46,"t":0.58,"h":9313},{"l":0.59,"t":0.58,"h":9693},{"l":0.72,"t":0.58,"h":9998},{"l":0.85,"t":0.58,"h":10168},{"l":0.98,"t":0.58,"h":10183},{"l":1.11,"t":0.58,"h":10044},{"l":1.24,"t":0.58,"h":9763},{"l":1.37,"t":0.58,"h":9390},{"l":1.51,"t":0.58,"h":9023},{"l":1.64,"t":0.58,"h":8782},{"l":1.77,"t":0.58,"h":8759},{"l":1.9,"t":0.58,"h":8961},{"l":2.03,"t":0.58,"h":9313},{"l":2.16,"t":0.58,"h":9693},{"l":2.29,"t":0.58,"h":9998},{"l":2.42,"t":0.58,"h":10168},{"l":2.55,"t":0.58,"h":10183},{"l":2.68,"t":0.58,"h":10044},{"l":2.81,"t":0.58,"h":9763},{"l":2.95,"t":0.58,"h":9390},{"l":3.08,"t":0.58,"h":9023},
{"l":-3.08,"t":0.68,"h":8622},{"l":-2.95,"t":0.68,"h":8601},{"l":-2.81,"t":0.68,"h":8785},{"l":-2.68,"t":0.68,"h":9110},{"l":-2.55,"t":0.68,"h":9472},{"l":-2.42,"t":0.68,"h":9772},{"l":-2.29,"t":0.68,"h":9945},{"l":-2.16,"t":0.68,"h":9962},{"l":-2.03,"t":0.68,"h":9819},{"l":-1.9,"t":0.68,"h":9540},{"l":-1.77,"t":0.68,"h":9183},{"l":-1.64,"t":0.68,"h":8842},{"l":-1.51,"t":0.68,"h":8622},{"l":-1.37,"t":0.68,"h":8601},{"l":-1.24,"t":0.68,"h":8785},{"l":-1.11,"t":0.68,"h":9110},{"l":-0.98,"t":0.68,"h":9472},{"l":-0.85,"t":0.68,"h":9772},{"l":-0.72,"t":0.68,"h":9945},{"l":-0.59,"t":0.68,"h":9962},{"l":-0.46,"t":0.68,"h":9819},{"l":-0.33,"t":0.68,"h":9540},{"l":-0.2,"t":0.68,"h":9183},{"l":-0.07,"t":0.68,"h":8842},{"l":0.07,"t":0.68,"h":8622},{"l":0.2,"t":0.68,"h":8601},{"l":0.33,"t":0.68,"h":8785},{"l":0.46,"t":0.68,"h":9110},{"l":0.59,"t":0.68,"h":9472},{"l":0.72,"t":0.68,"h":9772},{"l":0.85,"t":0.68,"h":9945},{"l":0.98,"t":0.68,"h":9962},{"l":1.11,"t":0.68,"h":9819},{"l":1.24,"t":0.68,"h":9540},{"l":1.37,"t":0.68,"h":9183},{"l":1.51,"t":0.68,"h":8842},{"l":1.64,"t":0.68,"h":8622},{"l":1.77,"t":0.68,"h":8601},{"l":1.9,"t":0.68,"h":8785},{"l":2.03,"t":0.68,"h":9110},{"l":2.16,"t":0.68,"h":9472},{"l":2.29,"t":0.68,"h":9772},{"l":2.42,"t":0.68,"h":9945},{"l":2.55,"t":0.68,"h":9962},{"l":2.68,"t":0.68,"h":9819},{"l":2.81,"t":0.68,"h":9540},{"l":2.95,"t":0.68,"h":9183},{"l":3.08,"t":0.68,"h":8842},
{"l":-3.08,"t":0.79,"h":8534},{"l":-2.95,"t":0.79,"h":8516},{"l":-2.81,"t":0.79,"h":8666},{"l":-2.68,"t":0.79,"h":8935},{"l":-2.55,"t":0.79,"h":9242},{"l":-2.42,"t":0.79,"h":9503},{"l":-2.29,"t":0.79,"h":9657},{"l":-2.16,"t":0.79,"h":9671},{"l":-2.03,"t":0.79,"h":9544},{"l":-1.9,"t":0.79,"h":9300},{"l":-1.77,"t":0.79,"h":8997},{"l":-1.64,"t":0.79,"h":8713},{"l":-1.51,"t":0.79,"h":8534},{"l":-1.37,"t":0.79,"h":8516},{"l":-1.24,"t":0.79,"h":8666},{"l":-1.11,"t":0.79,"h":8935},{"l":-0.98,"t":0.79,"h":9242},{"l":-0.85,"t":0.79,"h":9503},{"l":-0.72,"t":0.79,"h":9657},{"l":-0.59,"t":0.79,"h":9671},{"l":-0.46,"t":0.79,"h":9544},{"l":-0.33,"t":0.79,"h":9300},{"l":-0.2,"t":0.79,"h":8997},{"l":-0.07,"t":0.79,"h":8713},{"l":0.07,"t":0.79,"h":8534},{"l":0.2,"t":0.79,"h":8516},{"l":0.33,"t":0.79,"h":8666},{"l":0.46,"t":0.79,"h":8935},{"l":0.59,"t":0.79,"h":9242},{"l":0.72,"t":0.79,"h":9503},{"l":0.85,"t":0.79,"h":9657},{"l":0.98,"t":0.79,"h":9671},{"l":1.11,"t":0.79,"h":9544},{"l":1.24,"t":0.79,"h":9300},{"l":1.37,"t":0.79,"h":8997},{"l":1.51,"t":0.79,"h":8713},{"l":1.64,"t":0.79,"h":8534},{"l":1.77,"t":0.79,"h":8516},{"l":1.9,"t":0.79,"h":8666},{"l":2.03,"t":0.79,"h":8935},{"l":2.16,"t":0.79,"h":9242},{"l":2.29,"t":0.79,"h":9503},{"l":2.42,"t":0.79,"h":9657},{"l":2.55,"t":0.79,"h":9671},{"l":2.68,"t":0.79,"h":9544},{"l":2.81,"t":0.79,"h":9300},{"l":2.95,"t":0.79,"h":8997},{"l":3.08,"t":0.79,"h":8713},
{"l":-3.08,"t":0.89,"h":8481},{"l":-2.95,"t":0.89,"h":8468},{"l":-2.81,"t":0.89,"h":8577},{"l":-2.68,"t":0.89,"h":8774},{"l":-2.55,"t":0.89,"h":9003},{"l":-2.42,"t":0.89,"h":9202},{"l":-2.29,"t":0.89,"h":9321},{"l":-2.16,"t":0.89,"h":9332},{"l":-2.03,"t":0.89,"h":9233},{"l":-1.9,"t":0.89,"h":9047},{"l":-1.77,"t":0.89,"h":8820},{"l":-1.64,"t":0.89,"h":8611},{"l":-1.51,"t":0.89,"h":8481},{"l":-1.37,"t":0.89,"h":8468},{"l":-1.24,"t":0.89,"h":8577},{"l":-1.11,"t":0.89,"h":8774},{"l":-0.98,"t":0.89,"h":9003},{"l":-0.85,"t":0.89,"h":9202},{"l":-0.72,"t":0.89,"h":9321},{"l":-0.59,"t":0.89,"h":9332},{"l":-0.46,"t":0.89,"h":9233},{"l":-0.33,"t":0.89,"h":9047},{"l":-0.2,"t":0.89,"h":8820},{"l":-0.07,"t":0.89,"h":8611},{"l":0.07,"t":0.89,"h":8481},{"l":0.2,"t":0.89,"h":8468},{"l":0.33,"t":0.89,"h":8577},{"l":0.46,"t":0.89,"h":8774},{"l":0.59,"t":0.89,"h":9003},{"l":0.72,"t":0.89,"h":9202},{"l":0.85,"t":0.89,"h":9321},{"l":0.98,"t":0.89,"h":9332},{"l":1.11,"t":0.89,"h":9233},{"l":1.24,"t":0.89,"h":9047},{"l":1.37,"t":0.89,"h":8820},{"l":1.51,"t":0.89,"h":8611},{"l":1.64,"t":0.89,"h":8481},{"l":1.77,"t":0.89,"h":8468},{"l":1.9,"t":0.89,"h":8577},{"l":2.03,"t":0.89,"h":8774},{"l":2.16,"t":0.89,"h":9003},{"l":2.29,"t":0.89,"h":9202},{"l":2.42,"t":0.89,"h":9321},{"l":2.55,"t":0.89,"h":9332},{"l":2.68,"t":0.89,"h":9233},{"l":2.81,"t":0.89,"h":9047},{"l":2.95,"t":0.89,"h":8820},{"l":3.08,"t":0.89,"h":8611},
{"l":-3.08,"t":0.99,"h":8427},{"l":-2.95,"t":0.99,"h":8419},{"l":-2.81,"t":0.99,"h":8488},{"l":-2.68,"t":0.99,"h":8614},{"l":-2.55,"t":0.99,"h":8762},{"l":-2.42,"t":0.99,"h":8892},{"l":-2.29,"t":0.99,"h":8971},{"l":-2.16,"t":0.99,"h":8978},{"l":-2.03,"t":0.99,"h":8913},{"l":-1.9,"t":0.99,"h":8791},{"l":-1.77,"t":0.99,"h":8643},{"l":-1.64,"t":0.99,"h":8510},{"l":-1.51,"t":0.99,"h":8427},{"l":-1.37,"t":0.99,"h":8419},{"l":-1.24,"t":0.99,"h":8488},{"l":-1.11,"t":0.99,"h":8614},{"l":-0.98,"t":0.99,"h":8762},{"l":-0.85,"t":0.99,"h":8892},{"l":-0.72,"t":0.99,"h":8971},{"l":-0.59,"t":0.99,"h":8978},{"l":-0.46,"t":0.99,"h":8913},{"l":-0.33,"t":0.99,"h":8791},{"l":-0.2,"t":0.99,"h":8643},{"l":-0.07,"t":0.99,"h":8510},{"l":0.07,"t":0.99,"h":8427},{"l":0.2,"t":0.99,"h":8419},{"l":0.33,"t":0.99,"h":8488},{"l":0.46,"t":0.99,"h":8614},{"l":0.59,"t":0.99,"h":8762},{"l":0.72,"t":0.99,"h":8892},{"l":0.85,"t":0.99,"h":8971},{"l":0.98,"t":0.99,"h":8978},{"l":1.11,"t":0.99,"h":8913},{"l":1.24,"t":0.99,"h":8791},{"l":1.37,"t":0.99,"h":8643},{"l":1.51,"t":0.99,"h":8510},{"l":1.64,"t":0.99,"h":8427},{"l":1.77,"t":0.99,"h":8419},{"l":1.9,"t":0.99,"h":8488},{"l":2.03,"t":0.99,"h":8614},{"l":2.16,"t":0.99,"h":8762},{"l":2.29,"t":0.99,"h":8892},{"l":2.42,"t":0.99,"h":8971},{"l":2.55,"t":0.99,"h":8978},{"l":2.68,"t":0.99,"h":8913},{"l":2.81,"t":0.99,"h":8791},{"l":2.95,"t":0.99,"h":8643},{"l":3.08,"t":0.99,"h":8510},
{"l":-3.08,"t":1.1,"h":8352},{"l":-2.95,"t":1.1,"h":8348},{"l":-2.81,"t":1.1,"h":8385},{"l":-2.68,"t":1.1,"h":8452},{"l":-2.55,"t":1.1,"h":8533},{"l":-2.42,"t":1.1,"h":8603},{"l":-2.29,"t":1.1,"h":8647},{"l":-2.16,"t":1.1,"h":8651},{"l":-2.03,"t":1.1,"h":8615},{"l":-1.9,"t":1.1,"h":8548},{"l":-1.77,"t":1.1,"h":8468},{"l":-1.64,"t":1.1,"h":8396},{"l":-1.51,"t":1.1,"h":8352},{"l":-1.37,"t":1.1,"h":8348},{"l":-1.24,"t":1.1,"h":8385},{"l":-1.11,"t":1.1,"h":8452},{"l":-0.98,"t":1.1,"h":8533},{"l":-0.85,"t":1.1,"h":8603},{"l":-0.72,"t":1.1,"h":8647},{"l":-0.59,"t":1.1,"h":8651},{"l":-0.46,"t":1.1,"h":8615},{"l":-0.33,"t":1.1,"h":8548},{"l":-0.2,"t":1.1,"h":8468},{"l":-0.07,"t":1.1,"h":8396},{"l":0.07,"t":1.1,"h":8352},{"l":0.2,"t":1.1,"h":8348},{"l":0.33,"t":1.1,"h":8385},{"l":0.46,"t":1.1,"h":8452},{"l":0.59,"t":1.1,"h":8533},{"l":0.72,"t":1.1,"h":8603},{"l":0.85,"t":1.1,"h":8647},{"l":0.98,"t":1.1,"h":8651},{"l":1.11,"t":1.1,"h":8615},{"l":1.24,"t":1.1,"h":8548},{"l":1.37,"t":1.1,"h":8468},{"l":1.51,"t":1.1,"h":8396},{"l":1.64,"t":1.1,"h":8352},{"l":1.77,"t":1.1,"h":8348},{"l":1.9,"t":1.1,"h":8385},{"l":2.03,"t":1.1,"h":8452},{"l":2.16,"t":1.1,"h":8533},{"l":2.29,"t":1.1,"h":8603},{"l":2.42,"t":1.1,"h":8647},{"l":2.55,"t":1.1,"h":8651},{"l":2.68,"t":1.1,"h":8615},{"l":2.81,"t":1.1,"h":8548},{"l":2.95,"t":1.1,"h":8468},{"l":3.08,"t":1.1,"h":8396},
{"l":-3.08,"t":1.2,"h":8254},{"l":-2.95,"t":1.2,"h":8252},{"l":-2.81,"t":1.2,"h":8268},{"l":-2.68,"t":1.2,"h":8296},{"l":-2.55,"t":1.2,"h":8330},{"l":-2.42,"t":1.2,"h":8361},{"l":-2.29,"t":1.2,"h":8379},{"l":-2.16,"t":1.2,"h":8381},{"l":-2.03,"t":1.2,"h":8366},{"l":-1.9,"t":1.2,"h":8337},{"l":-1.77,"t":1.2,"h":8303},{"l":-1.64,"t":1.2,"h":8273},{"l":-1.51,"t":1.2,"h":8254},{"l":-1.37,"t":1.2,"h":8252},{"l":-1.24,"t":1.2,"h":8268},{"l":-1.11,"t":1.2,"h":8296},{"l":-0.98,"t":1.2,"h":8330},{"l":-0.85,"t":1.2,"h":8361},{"l":-0.72,"t":1.2,"h":8379},{"l":-0.59,"t":1.2,"h":8381},{"l":-0.46,"t":1.2,"h":8366},{"l":-0.33,"t":1.2,"h":8337},{"l":-0.2,"t":1.2,"h":8303},{"l":-0.07,"t":1.2,"h":8273},{"l":0.07,"t":1.2,"h":8254},{"l":0.2,"t":1.2,"h":8252},{"l":0.33,"t":1.2,"h":8268},{"l":0.46,"t":1.2,"h":8296},{"l":0.59,"t":1.2,"h":8330},{"l":0.72,"t":1.2,"h":8361},{"l":0.85,"t":1.2,"h":8379},{"l":0.98,"t":1.2,"h":8381},{"l":1.11,"t":1.2,"h":8366},{"l":1.24,"t":1.2,"h":8337},{"l":1.37,"t":1.2,"h":8303},{"l":1.51,"t":1.2,"h":8273},{"l":1.64,"t":1.2,"h":8254},{"l":1.77,"t":1.2,"h":8252},{"l":1.9,"t":1.2,"h":8268},{"l":2.03,"t":1.2,"h":8296},{"l":2.16,"t":1.2,"h":8330},{"l":2.29,"t":1.2,"h":8361},{"l":2.42,"t":1.2,"h":8379},{"l":2.55,"t":1.2,"h":8381},{"l":2.68,"t":1.2,"h":8366},{"l":2.81,"t":1.2,"h":8337},{"l":2.95,"t":1.2,"h":8303},{"l":3.08,"t":1.2,"h":8273},
{"l":-3.08,"t":1.31,"h":8148},{"l":-2.95,"t":1.31,"h":8148},{"l":-2.81,"t":1.31,"h":8152},{"l":-2.68,"t":1.31,"h":8161},{"l":-2.55,"t":1.31,"h":8171},{"l":-2.42,"t":1.31,"h":8179},{"l":-2.29,"t":1.31,"h":8185},{"l":-2.16,"t":1.31,"h":8185},{"l":-2.03,"t":1.31,"h":8181},{"l":-1.9,"t":1.31,"h":8173},{"l":-1.77,"t":1.31,"h":8163},{"l":-1.64,"t":1.31,"h":8154},{"l":-1.51,"t":1.31,"h":8148},{"l":-1.37,"t":1.31,"h":8148},{"l":-1.24,"t":1.31,"h":8152},{"l":-1.11,"t":1.31,"h":8161},{"l":-0.98,"t":1.31,"h":8171},{"l":-0.85,"t":1.31,"h":8179},{"l":-0.72,"t":1.31,"h":8185},{"l":-0.59,"t":1.31,"h":8185},{"l":-0.46,"t":1.31,"h":8181},{"l":-0.33,"t":1.31,"h":8173},{"l":-0.2,"t":1.31,"h":8163},{"l":-0.07,"t":1.31,"h":8154},{"l":0.07,"t":1.31,"h":8148},{"l":0.2,"t":1.31,"h":8148},{"l":0.33,"t":1.31,"h":8152},{"l":0.46,"t":1.31,"h":8161},{"l":0.59,"t":1.31,"h":8171},{"l":0.72,"t":1.31,"h":8179},{"l":0.85,"t":1.31,"h":8185},{"l":0.98,"t":1.31,"h":8185},{"l":1.11,"t":1.31,"h":8181},{"l":1.24,"t":1.31,"h":8173},{"l":1.37,"t":1.31,"h":8163},{"l":1.51,"t":1.31,"h":8154},{"l":1.64,"t":1.31,"h":8148},{"l":1.77,"t":1.31,"h":8148},{"l":1.9,"t":1.31,"h":8152},{"l":2.03,"t":1.31,"h":8161},{"l":2.16,"t":1.31,"h":8171},{"l":2.29,"t":1.31,"h":8179},{"l":2.42,"t":1.31,"h":8185},{"l":2.55,"t":1.31,"h":8185},{"l":2.68,"t":1.31,"h":8181},{"l":2.81,"t":1.31,"h":8173},{"l":2.95,"t":1.31,"h":8163},{"l":3.08,"t":1.31,"h":8154},
{"l":-3.08,"t":1.41,"h":8059},{"l":-2.95,"t":1.41,"h":8059},{"l":-2.81,"t":1.41,"h":8059},{"l":-2.68,"t":1.41,"h":8060},{"l":-2.55,"t":1.41,"h":8062},{"l":-2.42,"t":1.41,"h":8063},{"l":-2.29,"t":1.41,"h":8064},{"l":-2.16,"t":1.41,"h":8064},{"l":-2.03,"t":1.41,"h":8063},{"l":-1.9,"t":1.41,"h":8062},{"l":-1.77,"t":1.41,"h":8061},{"l":-1.64,"t":1.41,"h":8059},{"l":-1.51,"t":1.41,"h":8059},{"l":-1.37,"t":1.41,"h":8059},{"l":-1.24,"t":1.41,"h":8059},{"l":-1.11,"t":1.41,"h":8060},{"l":-0.98,"t":1.41,"h":8062},{"l":-0.85,"t":1.41,"h":8063},{"l":-0.72,"t":1.41,"h":8064},{"l":-0.59,"t":1.41,"h":8064},{"l":-0.46,"t":1.41,"h":8063},{"l":-0.33,"t":1.41,"h":8062},{"l":-0.2,"t":1.41,"h":8061},{"l":-0.07,"t":1.41,"h":8059},{"l":0.07,"t":1.41,"h":8059},{"l":0.2,"t":1.41,"h":8059},{"l":0.33,"t":1.41,"h":8059},{"l":0.46,"t":1.41,"h":8060},{"l":0.59,"t":1.41,"h":8062},{"l":0.72,"t":1.41,"h":8063},{"l":0.85,"t":1.41,"h":8064},{"l":0.98,"t":1.41,"h":8064},{"l":1.11,"t":1.41,"h":8063},{"l":1.24,"t":1.41,"h":8062},{"l":1.37,"t":1.41,"h":8061},{"l":1.51,"t":1.41,"h":8059},{"l":1.64,"t":1.41,"h":8059},{"l":1.77,"t":1.41,"h":8059},{"l":1.9,"t":1.41,"h":8059},{"l":2.03,"t":1.41,"h":8060},{"l":2.16,"t":1.41,"h":8062},{"l":2.29,"t":1.41,"h":8063},{"l":2.42,"t":1.41,"h":8064},{"l":2.55,"t":1.41,"h":8064},{"l":2.68,"t":1.41,"h":8063},{"l":2.81,"t":1.41,"h":8062},{"l":2.95,"t":1.41,"h":8061},{"l":3.08,"t":1.41,"h":8059},
{"l":-3.08,"t":1.52,"h":8007},{"l":-2.95,"t":1.52,"h":8007},{"l":-2.81,"t":1.52,"h":8007},{"l":-2.68,"t":1.52,"h":8007},{"l":-2.55,"t":1.52,"h":8007},{"l":-2.42,"t":1.52,"h":8007},{"l":-2.29,"t":1.52,"h":8007},{"l":-2.16,"t":1.52,"h":8007},{"l":-2.03,"t":1.52,"h":8007},{"l":-1.9,"t":1.52,"h":8007},{"l":-1.77,"t":1.52,"h":8007},{"l":-1.64,"t":1.52,"h":8007},{"l":-1.51,"t":1.52,"h":8007},{"l":-1.37,"t":1.52,"h":8007},{"l":-1.24,"t":1.52,"h":8007},{"l":-1.11,"t":1.52,"h":8007},{"l":-0.98,"t":1.52,"h":8007},{"l":-0.85,"t":1.52,"h":8007},{"l":-0.72,"t":1.52,"h":8007},{"l":-0.59,"t":1.52,"h":8007},{"l":-0.46,"t":1.52,"h":8007},{"l":-0.33,"t":1.52,"h":8007},{"l":-0.2,"t":1.52,"h":8007},{"l":-0.07,"t":1.52,"h":8007},{"l":0.07,"t":1.52,"h":8007},{"l":0.2,"t":1.52,"h":8007},{"l":0.33,"t":1.52,"h":8007},{"l":0.46,"t":1.52,"h":8007},{"l":0.59,"t":1.52,"h":8007},{"l":0.72,"t":1.52,"h":8007},{"l":0.85,"t":1.52,"h":8007},{"l":0.98,"t":1.52,"h":8007},{"l":1.11,"t":1.52,"h":8007},{"l":1.24,"t":1.52,"h":8007},{"l":1.37,"t":1.52,"h":8007},{"l":1.51,"t":1.52,"h":8007},{"l":1.64,"t":1.52,"h":8007},{"l":1.77,"t":1.52,"h":8007},{"l":1.9,"t":1.52,"h":8007},{"l":2.03,"t":1.52,"h":8007},{"l":2.16,"t":1.52,"h":8007},{"l":2.29,"t":1.52,"h":8007},{"l":2.42,"t":1.52,"h":8007},{"l":2.55,"t":1.52,"h":8007},{"l":2.68,"t":1.52,"h":8007},{"l":2.81,"t":1.52,"h":8007},{"l":2.95,"t":1.52,"h":8007},{"l":3.08,"t":1.52,"h":8007}
]},
"transform": [
{"bin": {"extent": [-3.14159265, 3.14159265], "step": 0.13089969, "nice": false}, "field": "l", "as": ["l0", "l1"]},
{"bin": {"extent": [-1.57079633, 1.57079633], "step": 0.10471976, "nice": false}, "field": "t", "as": ["t0", "t1"]}
],
"mark": {"type": "rect", "strokeWidth": 0.6, "clip": true},
"encoding": {
"x": {"field": "l0", "type": "quantitative", "title": "λ", "scale": {"domain": [-3.14159265, 3.14159265], "nice": false, "zero": false}, "axis": {"values": [-3, -2, -1, 0, 1, 2, 3], "format": "d", "titleFontStyle": "italic", "titlePadding": 3}},
"x2": {"field": "l1"},
"y": {"field": "t0", "type": "quantitative", "title": "θ", "scale": {"domain": [-1.57079633, 1.57079633], "nice": false, "zero": false}, "axis": {"values": [-1.5, -1, -0.5, 0, 0.5, 1, 1.5], "format": ".1f", "titleFontStyle": "italic", "titlePadding": 5}},
"y2": {"field": "t1"},
"fill": {"field": "h", "type": "quantitative", "legend": null, "scale": {"type": "quantize", "domain": [8000, 10600], "nice": false, "zero": false, "range": ["#4155c7", "#4c66d6", "#5a78e2", "#6788ed", "#7497f5", "#82a5fa", "#91b3fe", "#9fbefe", "#acc8fc", "#bad0f8", "#c6d6f1", "#d2dae8", "#dddddd", "#e7d7cd", "#efcfbe", "#f4c5af", "#f6b99f", "#f6ac8f", "#f59e7f", "#f08d6f", "#ea7b60", "#e16752", "#d65245", "#ca3c37", "#bb162c", "#b40426"]}},
"stroke": {"field": "h", "type": "quantitative", "legend": null, "scale": {"type": "quantize", "domain": [8000, 10600], "nice": false, "zero": false, "range": ["#4155c7", "#4c66d6", "#5a78e2", "#6788ed", "#7497f5", "#82a5fa", "#91b3fe", "#9fbefe", "#acc8fc", "#bad0f8", "#c6d6f1", "#d2dae8", "#dddddd", "#e7d7cd", "#efcfbe", "#f4c5af", "#f6b99f", "#f6ac8f", "#f59e7f", "#f08d6f", "#ea7b60", "#e16752", "#d65245", "#ca3c37", "#bb162c", "#b40426"]}}
}
},
{
"data": {"values": [{"frame": 1}]},
"mark": {"type": "rect", "filled": false, "stroke": "black", "strokeWidth": 1},
"encoding": {"x": {"value": 0}, "x2": {"value": "width"}, "y": {"value": 0}, "y2": {"value": "height"}}
}
]
},
{
"layer": [
{
"data": {"values": [
{"lo":8000,"hi":8100},{"lo":8100,"hi":8200},{"lo":8200,"hi":8300},{"lo":8300,"hi":8400},{"lo":8400,"hi":8500},{"lo":8500,"hi":8600},{"lo":8600,"hi":8700},{"lo":8700,"hi":8800},{"lo":8800,"hi":8900},{"lo":8900,"hi":9000},{"lo":9000,"hi":9100},{"lo":9100,"hi":9200},{"lo":9200,"hi":9300},{"lo":9300,"hi":9400},{"lo":9400,"hi":9500},{"lo":9500,"hi":9600},{"lo":9600,"hi":9700},{"lo":9700,"hi":9800},{"lo":9800,"hi":9900},{"lo":9900,"hi":10000},{"lo":10000,"hi":10100},{"lo":10100,"hi":10200},{"lo":10200,"hi":10300},{"lo":10300,"hi":10400},{"lo":10400,"hi":10500},{"lo":10500,"hi":10600},{"lo":10600,"hi":10700},{"lo":10700,"hi":10800},{"lo":10800,"hi":10900},{"lo":10900,"hi":11000}
]},
"mark": {"type": "rect", "strokeWidth": 0.6},
"encoding": {
"x": {"datum": 0, "type": "quantitative", "scale": {"domain": [0, 1], "range": [379, 394]}, "axis": null},
"x2": {"datum": 1},
"y": {"field": "lo", "type": "quantitative", "title": null, "scale": {"domain": [8000, 11000], "nice": false, "zero": false}, "axis": {"orient": "right", "offset": 36, "values": [8000, 8500, 9000, 9500, 10000, 10500, 11000], "format": "d"}},
"y2": {"field": "hi"},
"fill": {"field": "lo", "type": "quantitative", "legend": null, "scale": {"type": "quantize", "domain": [8000, 10600], "nice": false, "zero": false, "range": ["#4155c7", "#4c66d6", "#5a78e2", "#6788ed", "#7497f5", "#82a5fa", "#91b3fe", "#9fbefe", "#acc8fc", "#bad0f8", "#c6d6f1", "#d2dae8", "#dddddd", "#e7d7cd", "#efcfbe", "#f4c5af", "#f6b99f", "#f6ac8f", "#f59e7f", "#f08d6f", "#ea7b60", "#e16752", "#d65245", "#ca3c37", "#bb162c", "#b40426"]}},
"stroke": {"field": "lo", "type": "quantitative", "legend": null, "scale": {"type": "quantize", "domain": [8000, 10600], "nice": false, "zero": false, "range": ["#4155c7", "#4c66d6", "#5a78e2", "#6788ed", "#7497f5", "#82a5fa", "#91b3fe", "#9fbefe", "#acc8fc", "#bad0f8", "#c6d6f1", "#d2dae8", "#dddddd", "#e7d7cd", "#efcfbe", "#f4c5af", "#f6b99f", "#f6ac8f", "#f59e7f", "#f08d6f", "#ea7b60", "#e16752", "#d65245", "#ca3c37", "#bb162c", "#b40426"]}}
}
},
{
"data": {"values": [{"lo": 8000, "hi": 11000}]},
"mark": {"type": "rect", "filled": false, "stroke": "black", "strokeWidth": 1},
"encoding": {
"x": {"datum": 0, "type": "quantitative", "scale": {"domain": [0, 1], "range": [379, 394]}, "axis": null},
"x2": {"datum": 1},
"y": {"field": "lo", "type": "quantitative", "title": null, "scale": {"domain": [8000, 11000], "nice": false, "zero": false}, "axis": {"orient": "right", "offset": 36, "values": [8000, 8500, 9000, 9500, 10000, 10500, 11000], "format": "d"}},
"y2": {"field": "hi"}
}
}
]
}
]
}
